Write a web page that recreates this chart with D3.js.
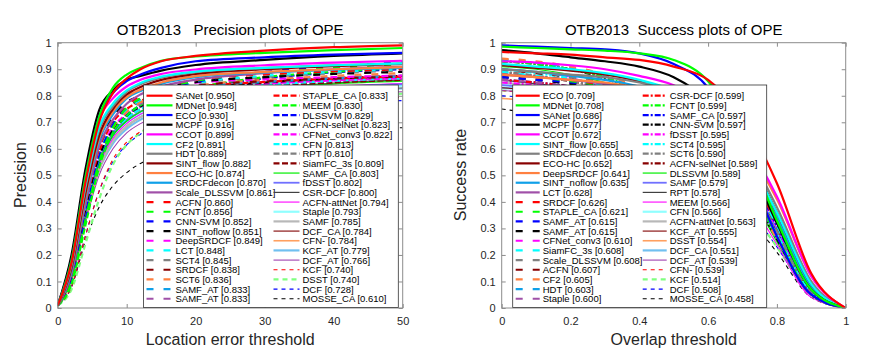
<!DOCTYPE html>
<html>
<head>
<meta charset="utf-8">
<script src="https://cdn.jsdelivr.net/npm/d3@7"></script>
<style>
  body { margin: 0; background: #fff; }
  svg text { font-family: "Liberation Sans", Arial, sans-serif; }
</style>
</head>
<body>
<div id="chart"></div>
<script>
// ---- data: precision plot (location error threshold) ----
var precThresholds = [0, 2, 4, 6, 8, 10, 12, 15, 20, 30, 40, 50];
var precNames = ["SANet", "MDNet", "ECO", "MCPF", "CCOT", "CF2", "HDT", "SINT_flow", "ECO-HC", "SRDCFdecon", "Scale_DLSSVM",
  "ACFN", "FCNT", "CNN-SVM", "SINT_noflow", "DeepSRDCF", "LCT", "SCT4", "SRDCF", "SCT6", "SAMF_AT", "SAMF_AT",
  "STAPLE_CA", "MEEM", "DLSSVM", "ACFN-selNet", "CFNet_conv3", "CFN", "RPT", "SiamFC_3s", "SAMF_CA", "fDSST", "CSR-DCF",
  "ACFN-attNet", "Staple", "SAMF", "DCF_CA", "CFN-", "KCF_AT", "DCF_AT", "KCF", "DSST", "DCF", "MOSSE_CA"];
var precScores = [0.950, 0.948, 0.930, 0.916, 0.899, 0.891, 0.889, 0.882, 0.874, 0.870, 0.861,
  0.860, 0.856, 0.852, 0.851, 0.849, 0.848, 0.845, 0.838, 0.836, 0.833, 0.833,
  0.833, 0.830, 0.829, 0.823, 0.822, 0.813, 0.810, 0.809, 0.803, 0.802, 0.800,
  0.794, 0.793, 0.785, 0.784, 0.784, 0.779, 0.766, 0.740, 0.740, 0.728, 0.610];
var precValues = [
  [0.01, 0.17, 0.47, 0.70, 0.81, 0.865, 0.90, 0.93, 0.950, 0.970, 0.983, 0.990],
  [0.01, 0.18, 0.49, 0.72, 0.83, 0.88, 0.905, 0.932, 0.948, 0.962, 0.972, 0.980],
  [0.01, 0.18, 0.49, 0.72, 0.81, 0.855, 0.88, 0.905, 0.930, 0.945, 0.955, 0.962],
  [0.01, 0.20, 0.52, 0.745, 0.82, 0.86, 0.875, 0.895, 0.916, 0.935, 0.950, 0.960],
  [0.01, 0.19, 0.49, 0.71, 0.79, 0.835, 0.86, 0.882, 0.899, 0.915, 0.925, 0.932],
  [0.01, 0.17, 0.46, 0.68, 0.77, 0.82, 0.848, 0.872, 0.891, 0.905, 0.915, 0.922],
  [0.01, 0.16, 0.45, 0.67, 0.76, 0.815, 0.843, 0.868, 0.889, 0.905, 0.915, 0.922],
  [0.01, 0.15, 0.43, 0.65, 0.75, 0.805, 0.833, 0.86, 0.882, 0.900, 0.912, 0.920],
  [0.01, 0.15, 0.42, 0.64, 0.74, 0.795, 0.823, 0.85, 0.874, 0.890, 0.900, 0.908],
  [0.01, 0.14, 0.41, 0.63, 0.73, 0.79, 0.818, 0.845, 0.870, 0.888, 0.898, 0.905],
  [0.01, 0.13, 0.39, 0.61, 0.71, 0.77, 0.805, 0.835, 0.861, 0.885, 0.900, 0.910],
  [0.01, 0.13, 0.39, 0.60, 0.71, 0.765, 0.80, 0.832, 0.860, 0.880, 0.892, 0.900],
  [0.01, 0.10, 0.33, 0.55, 0.68, 0.755, 0.79, 0.825, 0.856, 0.885, 0.905, 0.920],
  [0.01, 0.11, 0.35, 0.57, 0.69, 0.755, 0.79, 0.822, 0.852, 0.890, 0.910, 0.926],
  [0.01, 0.14, 0.41, 0.62, 0.72, 0.775, 0.80, 0.828, 0.851, 0.870, 0.882, 0.890],
  [0.01, 0.15, 0.43, 0.63, 0.72, 0.775, 0.80, 0.826, 0.849, 0.862, 0.870, 0.876],
  [0.01, 0.12, 0.37, 0.58, 0.69, 0.75, 0.785, 0.818, 0.848, 0.875, 0.890, 0.900],
  [0.01, 0.12, 0.37, 0.58, 0.69, 0.75, 0.785, 0.815, 0.845, 0.870, 0.885, 0.895],
  [0.01, 0.13, 0.39, 0.60, 0.70, 0.755, 0.785, 0.812, 0.838, 0.855, 0.865, 0.872],
  [0.01, 0.12, 0.37, 0.57, 0.68, 0.74, 0.775, 0.805, 0.836, 0.860, 0.875, 0.885],
  [0.01, 0.12, 0.37, 0.58, 0.69, 0.745, 0.775, 0.803, 0.833, 0.852, 0.865, 0.872],
  [0.01, 0.12, 0.37, 0.57, 0.68, 0.74, 0.77, 0.80, 0.833, 0.855, 0.868, 0.876],
  [0.01, 0.13, 0.39, 0.59, 0.70, 0.75, 0.78, 0.805, 0.833, 0.852, 0.865, 0.872],
  [0.01, 0.09, 0.31, 0.53, 0.66, 0.725, 0.765, 0.80, 0.830, 0.870, 0.890, 0.905],
  [0.01, 0.10, 0.33, 0.54, 0.66, 0.725, 0.765, 0.80, 0.829, 0.865, 0.888, 0.900],
  [0.01, 0.12, 0.37, 0.57, 0.67, 0.725, 0.76, 0.792, 0.823, 0.850, 0.865, 0.875],
  [0.01, 0.13, 0.39, 0.58, 0.68, 0.73, 0.76, 0.79, 0.822, 0.845, 0.858, 0.866],
  [0.01, 0.12, 0.37, 0.56, 0.66, 0.715, 0.75, 0.782, 0.813, 0.840, 0.856, 0.865],
  [0.01, 0.11, 0.35, 0.55, 0.66, 0.715, 0.75, 0.778, 0.810, 0.840, 0.860, 0.872],
  [0.01, 0.12, 0.37, 0.56, 0.66, 0.715, 0.75, 0.778, 0.809, 0.835, 0.850, 0.860],
  [0.01, 0.11, 0.35, 0.55, 0.65, 0.705, 0.74, 0.772, 0.803, 0.830, 0.845, 0.855],
  [0.01, 0.12, 0.37, 0.56, 0.66, 0.71, 0.74, 0.77, 0.802, 0.822, 0.835, 0.843],
  [0.01, 0.12, 0.37, 0.55, 0.65, 0.705, 0.74, 0.768, 0.800, 0.830, 0.848, 0.860],
  [0.01, 0.11, 0.35, 0.54, 0.64, 0.695, 0.73, 0.762, 0.794, 0.820, 0.836, 0.846],
  [0.01, 0.12, 0.37, 0.55, 0.65, 0.70, 0.73, 0.76, 0.793, 0.815, 0.828, 0.836],
  [0.01, 0.11, 0.35, 0.53, 0.63, 0.685, 0.72, 0.752, 0.785, 0.810, 0.825, 0.835],
  [0.01, 0.11, 0.34, 0.53, 0.63, 0.685, 0.72, 0.75, 0.784, 0.808, 0.822, 0.830],
  [0.01, 0.10, 0.33, 0.52, 0.63, 0.685, 0.72, 0.75, 0.784, 0.812, 0.828, 0.838],
  [0.01, 0.11, 0.34, 0.52, 0.62, 0.675, 0.71, 0.742, 0.779, 0.805, 0.820, 0.828],
  [0.01, 0.10, 0.32, 0.50, 0.60, 0.66, 0.695, 0.728, 0.766, 0.792, 0.806, 0.815],
  [0.01, 0.08, 0.27, 0.44, 0.56, 0.625, 0.665, 0.70, 0.740, 0.770, 0.785, 0.795],
  [0.01, 0.07, 0.24, 0.41, 0.54, 0.615, 0.66, 0.698, 0.740, 0.775, 0.795, 0.808],
  [0.01, 0.08, 0.27, 0.44, 0.55, 0.615, 0.655, 0.69, 0.728, 0.758, 0.772, 0.782],
  [0.01, 0.08, 0.25, 0.38, 0.46, 0.51, 0.545, 0.575, 0.610, 0.645, 0.665, 0.680]
];

// ---- data: success plot (overlap threshold) ----
var succThresholds = [0, 0.1, 0.2, 0.3, 0.4, 0.5, 0.6, 0.7, 0.8, 0.9, 1];
var succNames = ["ECO", "MDNet", "SANet", "MCPF", "CCOT", "SINT_flow", "SRDCFdecon", "ECO-HC", "DeepSRDCF", "SINT_noflow", "LCT",
  "SRDCF", "STAPLE_CA", "SAMF_AT", "SAMF_AT", "CFNet_conv3", "SiamFC_3s", "Scale_DLSSVM", "ACFN", "CF2", "HDT", "Staple",
  "CSR-DCF", "FCNT", "SAMF_CA", "CNN-SVM", "fDSST", "SCT4", "SCT6", "ACFN-selNet", "DLSSVM", "SAMF", "RPT",
  "MEEM", "CFN", "ACFN-attNet", "KCF_AT", "DSST", "DCF_CA", "DCF_AT", "CFN-", "KCF", "DCF", "MOSSE_CA"];
var succScores = [0.709, 0.708, 0.686, 0.677, 0.672, 0.655, 0.653, 0.652, 0.641, 0.635, 0.628,
  0.626, 0.621, 0.615, 0.615, 0.610, 0.608, 0.608, 0.607, 0.605, 0.603, 0.600,
  0.599, 0.599, 0.597, 0.597, 0.595, 0.595, 0.590, 0.589, 0.589, 0.579, 0.578,
  0.566, 0.566, 0.563, 0.555, 0.554, 0.551, 0.539, 0.539, 0.514, 0.508, 0.458];
var succValues = [
  [0.965, 0.96, 0.955, 0.945, 0.935, 0.91, 0.86, 0.72, 0.47, 0.13, 0],
  [0.985, 0.98, 0.975, 0.97, 0.96, 0.935, 0.855, 0.64, 0.33, 0.07, 0],
  [0.99, 0.985, 0.98, 0.975, 0.96, 0.92, 0.83, 0.58, 0.27, 0.05, 0],
  [0.972, 0.96, 0.945, 0.93, 0.91, 0.87, 0.78, 0.60, 0.32, 0.07, 0],
  [0.93, 0.925, 0.915, 0.90, 0.875, 0.84, 0.77, 0.64, 0.42, 0.12, 0],
  [0.92, 0.91, 0.90, 0.885, 0.86, 0.82, 0.75, 0.60, 0.36, 0.09, 0],
  [0.90, 0.89, 0.88, 0.87, 0.85, 0.82, 0.76, 0.62, 0.38, 0.10, 0],
  [0.915, 0.905, 0.895, 0.88, 0.855, 0.82, 0.75, 0.61, 0.36, 0.09, 0],
  [0.88, 0.87, 0.86, 0.85, 0.83, 0.80, 0.74, 0.62, 0.41, 0.12, 0],
  [0.90, 0.89, 0.875, 0.86, 0.835, 0.80, 0.73, 0.58, 0.34, 0.08, 0],
  [0.88, 0.87, 0.86, 0.845, 0.825, 0.79, 0.72, 0.58, 0.34, 0.08, 0],
  [0.88, 0.87, 0.86, 0.84, 0.82, 0.785, 0.72, 0.59, 0.35, 0.09, 0],
  [0.88, 0.87, 0.855, 0.835, 0.81, 0.78, 0.71, 0.58, 0.34, 0.08, 0],
  [0.87, 0.86, 0.85, 0.83, 0.805, 0.77, 0.705, 0.575, 0.33, 0.08, 0],
  [0.87, 0.86, 0.845, 0.83, 0.805, 0.77, 0.70, 0.57, 0.33, 0.08, 0],
  [0.88, 0.87, 0.85, 0.83, 0.80, 0.76, 0.69, 0.56, 0.33, 0.08, 0],
  [0.89, 0.875, 0.86, 0.835, 0.80, 0.76, 0.69, 0.55, 0.31, 0.07, 0],
  [0.90, 0.89, 0.87, 0.845, 0.81, 0.76, 0.68, 0.53, 0.29, 0.06, 0],
  [0.90, 0.885, 0.87, 0.845, 0.81, 0.76, 0.68, 0.53, 0.30, 0.06, 0],
  [0.94, 0.93, 0.91, 0.88, 0.83, 0.76, 0.66, 0.49, 0.26, 0.05, 0],
  [0.935, 0.925, 0.905, 0.875, 0.825, 0.755, 0.655, 0.49, 0.26, 0.05, 0],
  [0.86, 0.85, 0.835, 0.815, 0.79, 0.755, 0.69, 0.56, 0.32, 0.07, 0],
  [0.86, 0.85, 0.835, 0.815, 0.79, 0.75, 0.68, 0.55, 0.32, 0.08, 0],
  [0.93, 0.92, 0.90, 0.87, 0.82, 0.75, 0.65, 0.49, 0.27, 0.05, 0],
  [0.86, 0.85, 0.835, 0.81, 0.785, 0.745, 0.68, 0.55, 0.31, 0.07, 0],
  [0.93, 0.92, 0.90, 0.865, 0.815, 0.745, 0.65, 0.49, 0.26, 0.05, 0],
  [0.85, 0.84, 0.83, 0.81, 0.785, 0.75, 0.68, 0.55, 0.30, 0.07, 0],
  [0.90, 0.885, 0.865, 0.835, 0.80, 0.75, 0.665, 0.51, 0.28, 0.06, 0],
  [0.89, 0.875, 0.855, 0.83, 0.79, 0.74, 0.66, 0.51, 0.28, 0.06, 0],
  [0.89, 0.875, 0.855, 0.83, 0.79, 0.74, 0.66, 0.50, 0.28, 0.06, 0],
  [0.91, 0.90, 0.88, 0.85, 0.805, 0.74, 0.64, 0.48, 0.25, 0.05, 0],
  [0.84, 0.83, 0.815, 0.79, 0.76, 0.72, 0.65, 0.52, 0.30, 0.07, 0],
  [0.86, 0.845, 0.83, 0.80, 0.77, 0.72, 0.645, 0.51, 0.29, 0.06, 0],
  [0.90, 0.89, 0.87, 0.83, 0.78, 0.71, 0.61, 0.45, 0.24, 0.04, 0],
  [0.84, 0.83, 0.81, 0.785, 0.75, 0.70, 0.63, 0.50, 0.29, 0.06, 0],
  [0.85, 0.835, 0.815, 0.785, 0.75, 0.70, 0.625, 0.49, 0.28, 0.06, 0],
  [0.83, 0.82, 0.80, 0.775, 0.74, 0.69, 0.62, 0.49, 0.28, 0.06, 0],
  [0.79, 0.78, 0.77, 0.75, 0.725, 0.69, 0.63, 0.52, 0.32, 0.08, 0],
  [0.83, 0.82, 0.80, 0.77, 0.735, 0.685, 0.61, 0.48, 0.27, 0.06, 0],
  [0.82, 0.81, 0.79, 0.76, 0.72, 0.67, 0.595, 0.46, 0.26, 0.05, 0],
  [0.82, 0.805, 0.785, 0.755, 0.72, 0.67, 0.595, 0.46, 0.26, 0.05, 0],
  [0.82, 0.81, 0.79, 0.75, 0.70, 0.63, 0.54, 0.41, 0.23, 0.05, 0],
  [0.80, 0.79, 0.77, 0.74, 0.70, 0.63, 0.54, 0.41, 0.23, 0.05, 0],
  [0.75, 0.73, 0.70, 0.66, 0.61, 0.55, 0.48, 0.37, 0.21, 0.04, 0]
];

// tick labels
var yTicks = [0, 0.1, 0.2, 0.3, 0.4, 0.5, 0.6, 0.7, 0.8, 0.9, 1];
var precXTicks = [0, 10, 20, 30, 40, 50];
var succXTicks = [0, 0.2, 0.4, 0.6, 0.8, 1];

// ---- line style per rank slot (same for both plots) ----
var base = ["#ff0000", "#00ff00", "#0000ff", "#000000", "#ff00ff", "#00ffff", "#808080", "#880000", "#ff8040", "#10a0e8", "#a050a8"];
var slotColor = base.concat(base).concat(base.slice(0, 8)).concat([
  "#00ee00", "#7070ff", "#404040", "#ff00ff", "#90ffff", "#b8b8b8", "#800000", "#ffa060", "#70c0f0", "#a040b0",
  "#ff0000", "#80ff80", "#0000ff", "#000000"]);
var slotWidth = d3.range(30).map(() => 2.2).concat([1.2, 1.8, 1.2, 1.1, 2.2, 2.2, 1.1, 1.6, 2.2, 1.1, 1.1, 2.2, 1.1, 1.1]);
function slotDash(i, dashDot) {
  if (i < 11) return null;
  if (i < 22) return "7,10";
  if (i < 30) return dashDot ? "6,2,2,2" : "6,2.5";
  if (i < 40) return null;
  return i === 41 ? "5,4" : "4,4";
}

var width = 883, height = 354;
var svg = d3.select("#chart").append("svg")
  .attr("width", width)
  .attr("height", height);

function drawPanel(p) {
  var x = d3.scaleLinear().domain(p.xDomain).range([p.left, p.right]);
  var y = d3.scaleLinear().domain([0, 1]).range([308, 42.7]);
  var g = svg.append("g");

  g.append("rect")
    .attr("x", p.left).attr("y", 42.7)
    .attr("width", p.right - p.left).attr("height", 308 - 42.7)
    .attr("fill", "#fff");

  var clipId = "clip" + p.id;
  g.append("clipPath").attr("id", clipId).append("rect")
    .attr("x", p.left).attr("y", 42.7)
    .attr("width", p.right - p.left).attr("height", 308 - 42.7);

  // axes with inward ticks on all four sides
  var fmt = d3.format("~g");
  var axB = g.append("g").attr("transform", "translate(0,308)")
    .call(d3.axisBottom(x).tickValues(p.xTicks).tickFormat(fmt).tickSize(-4).tickPadding(9));
  var axT = g.append("g").attr("transform", "translate(0,42.7)")
    .call(d3.axisTop(x).tickValues(p.xTicks).tickFormat("").tickSize(-4));
  var axL = g.append("g").attr("transform", "translate(" + p.left + ",0)")
    .call(d3.axisLeft(y).tickValues(yTicks).tickFormat(fmt).tickSize(-4).tickPadding(6));
  var axR = g.append("g").attr("transform", "translate(" + p.right + ",0)")
    .call(d3.axisRight(y).tickValues(yTicks).tickFormat("").tickSize(-4));
  [axB, axT, axL, axR].forEach(a => {
    a.select(".domain").remove();
    a.selectAll("line").attr("stroke", "#8c8c8c");
    a.selectAll("text").attr("fill", "#262626").style("font-size", "11px")
      .style("font-family", '"Liberation Sans", Arial, sans-serif');
  });

  // curves, lowest rank first so the best sits on top
  var line = d3.line()
    .x((d, i) => x(p.thresholds[i]))
    .y(d => y(d))
    .curve(d3.curveMonotoneX);
  var curves = g.append("g").attr("clip-path", "url(#" + clipId + ")");
  for (var i = p.values.length - 1; i >= 0; i--) {
    curves.append("path")
      .attr("d", line(p.values[i]))
      .attr("fill", "none")
      .attr("stroke", slotColor[i])
      .attr("stroke-width", slotWidth[i])
      .attr("stroke-dasharray", slotDash(i, p.dashDot));
  }

  g.append("rect")
    .attr("x", p.left).attr("y", 42.7)
    .attr("width", p.right - p.left).attr("height", 308 - 42.7)
    .attr("fill", "none").attr("stroke", "#8c8c8c").attr("stroke-width", 1);

  // legend
  var lg = g.append("g");
  lg.append("rect")
    .attr("x", p.legX).attr("y", 85)
    .attr("width", p.legW).attr("height", 222.5)
    .attr("fill", "#fff").attr("stroke", "#333").attr("stroke-width", 0.8);
  p.names.forEach((name, i) => {
    var col = i < 22 ? 0 : 1;
    var row = i % 22;
    var cy = 95.7 + row * 9.67;
    var lx = p.legX + p.colOffsets[col];
    lg.append("line")
      .attr("x1", lx).attr("x2", lx + p.sampleLen)
      .attr("y1", cy).attr("y2", cy)
      .attr("stroke", slotColor[i])
      .attr("stroke-width", slotWidth[i])
      .attr("stroke-dasharray", slotDash(i, p.dashDot));
    lg.append("text")
      .attr("x", lx + p.sampleLen + 3)
      .attr("y", cy + 3.5)
      .attr("fill", "#000")
      .style("font-size", "9.5px")
      .text(name + " [" + p.scores[i].toFixed(3) + "]");
  });

  // title and axis labels
  g.append("text")
    .attr("x", (p.left + p.right) / 2).attr("y", 35)
    .attr("text-anchor", "middle")
    .style("font-size", "15px").style("white-space", "pre")
    .attr("fill", "#000")
    .text(p.title);
  g.append("text")
    .attr("x", (p.left + p.right) / 2).attr("y", 345)
    .attr("text-anchor", "middle")
    .style("font-size", "16px")
    .attr("fill", "#262626")
    .text(p.xLabel);
  g.append("text")
    .attr("transform", "translate(" + (p.left - p.yLabelGap) + "," + 175 + ") rotate(-90)")
    .attr("text-anchor", "middle")
    .style("font-size", "16px")
    .attr("fill", "#262626")
    .text(p.yLabel);
}

drawPanel({
  id: "prec", left: 57.7, right: 402.7, xDomain: [0, 50], xTicks: precXTicks,
  thresholds: precThresholds, values: precValues, names: precNames, scores: precScores,
  dashDot: false, legX: 143.5, legW: 254.8, colOffsets: [3, 130], sampleLen: 26,
  title: "OTB2013   Precision plots of OPE", xLabel: "Location error threshold", yLabel: "Precision", yLabelGap: 32
});
drawPanel({
  id: "succ", left: 501.7, right: 845.7, xDomain: [0, 1], xTicks: succXTicks,
  thresholds: succThresholds, values: succValues, names: succNames, scores: succScores,
  dashDot: true, legX: 512.7, legW: 254, colOffsets: [3, 130], sampleLen: 24,
  title: "OTB2013  Success plots of OPE", xLabel: "Overlap threshold", yLabel: "Success rate", yLabelGap: 36
});
</script>
</body>
</html>
